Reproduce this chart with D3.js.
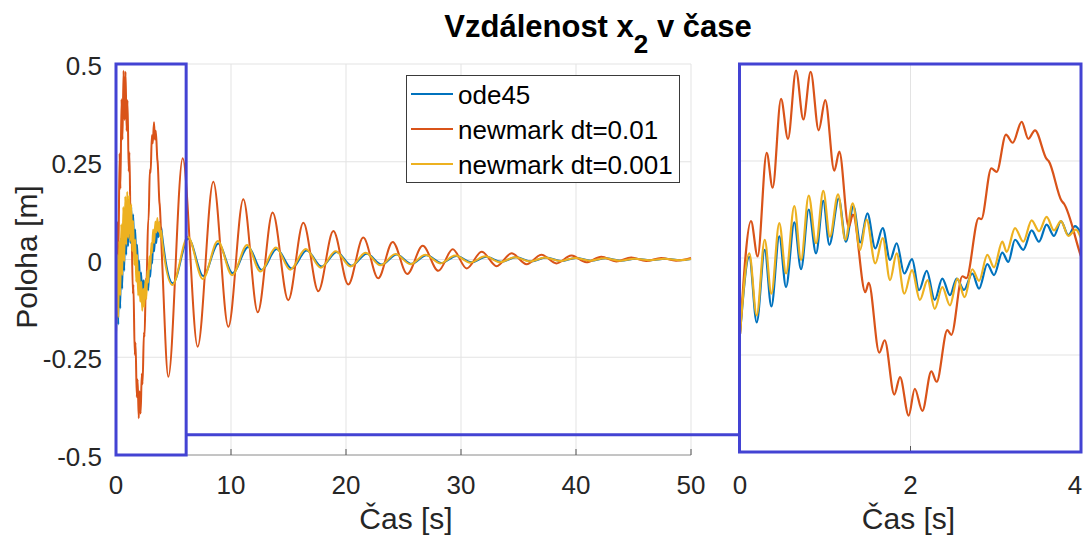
<!DOCTYPE html>
<html>
<head>
<meta charset="utf-8">
<script src="https://cdn.jsdelivr.net/npm/d3@7"></script>
<style>
  html, body { margin: 0; padding: 0; background: #fff; }
  svg { display: block; }
</style>
</head>
<body>
<div id="chart"></div>
<script>
(function () {
  "use strict";

  var FONT = "'Liberation Sans', Arial, Helvetica, sans-serif";

  // ── data (t [s], x2 [m]) ──
  var ode45Pts = [
    [0, -0.196], [0.109, 0.003], [0.196, -0.166], [0.29, 0.021], [0.368, -0.125],
    [0.461, 0.056], [0.54, -0.075], [0.637, 0.092], [0.716, -0.029], [0.806, 0.125],
    [0.892, 0.012], [0.977, 0.147], [1.048, 0.034], [1.158, 0.153], [1.243, 0.042],
    [1.33, 0.134], [1.411, 0.04], [1.494, 0.115], [1.587, 0.025], [1.674, 0.077],
    [1.76, -0.005], [1.838, 0.038], [1.927, -0.04], [2.018, -0.003], [2.1, -0.083],
    [2.19, -0.033], [2.284, -0.108], [2.373, -0.053], [2.463, -0.096], [2.542, -0.053],
    [2.628, -0.082], [2.725, -0.04], [2.804, -0.079], [2.901, -0.016], [2.98, -0.044],
    [3.077, 0.014], [3.147, -0.01], [3.226, 0.047], [3.323, 0.021], [3.421, 0.071],
    [3.507, 0.042], [3.597, 0.086], [3.683, 0.057], [3.765, 0.095], [3.851, 0.059],
    [3.93, 0.082], [4.0, 0.064],
    [4.95, -0.061], [6.29, 0.054], [7.59, -0.042], [8.9, 0.041], [10.14, -0.035],
    [11.5, 0.032], [12.67, -0.027], [13.97, 0.027], [15.28, -0.023], [16.58, 0.023],
    [17.88, -0.018], [19.19, 0.019], [20.49, -0.016], [21.8, 0.015], [23.1, -0.013],
    [24.4, 0.013], [25.7, -0.011], [27.0, 0.011], [28.3, -0.009], [29.6, 0.009],
    [30.9, -0.007], [32.2, 0.007], [33.5, -0.006], [34.8, 0.006], [36.1, -0.005],
    [37.4, 0.005], [38.7, -0.004], [40.0, 0.004], [41.3, -0.003], [42.6, 0.003],
    [43.9, -0.003], [45.2, 0.002], [46.5, -0.002], [47.8, 0.002], [49.1, -0.002],
    [50, 0.001]
  ];

  var newmark01Pts = [
    [0, -0.196], [0.129, 0.095], [0.207, 0.004], [0.313, 0.271], [0.383, 0.181],
    [0.481, 0.41], [0.563, 0.307], [0.657, 0.483], [0.743, 0.357], [0.829, 0.48],
    [0.923, 0.329], [1.0, 0.407], [1.106, 0.225], [1.165, 0.274], [1.275, 0.08],
    [1.325, 0.112], [1.47, -0.088], [1.51, -0.064], [1.634, -0.244], [1.697, -0.212],
    [1.81, -0.352], [1.877, -0.307], [1.979, -0.406], [2.05, -0.337], [2.139, -0.394],
    [2.244, -0.292], [2.307, -0.319], [2.432, -0.186], [2.479, -0.198], [2.608, -0.047],
    [2.655, -0.052], [2.8, 0.103], [2.83, 0.1], [2.948, 0.231], [3.011, 0.222],
    [3.12, 0.318], [3.199, 0.297], [3.304, 0.351], [3.382, 0.307], [3.46, 0.329],
    [3.597, 0.255], [3.62, 0.25], [3.773, 0.147], [3.8, 0.14], [4.0, 0.004],
    [4.55, -0.30], [5.8, 0.259], [7.1, -0.223], [8.46, 0.199], [9.77, -0.172],
    [11.07, 0.154], [12.33, -0.135], [13.62, 0.12], [14.98, -0.104], [16.29, 0.094],
    [17.59, -0.081], [18.9, 0.073], [20.2, -0.064], [21.5, 0.056], [22.8, -0.048],
    [24.06, 0.045], [25.33, -0.037], [26.67, 0.035], [28.03, -0.029], [29.28, 0.026],
    [30.5, -0.023], [31.8, 0.02], [33.1, -0.017], [34.4, 0.016], [35.7, -0.012],
    [37.0, 0.012], [38.3, -0.01], [39.6, 0.01], [40.9, -0.007], [42.2, 0.007],
    [43.5, -0.005], [44.8, 0.005], [46.1, -0.004], [47.4, 0.004], [48.7, -0.003],
    [50, 0.004]
  ];

  var newmark001Pts = [
    [0, -0.196], [0.109, 0.012], [0.196, -0.148], [0.29, 0.047], [0.368, -0.092],
    [0.461, 0.09], [0.54, -0.04], [0.637, 0.134], [0.716, -0.005], [0.806, 0.161],
    [0.892, 0.038], [0.977, 0.173], [1.055, 0.055], [1.15, 0.164], [1.235, 0.047],
    [1.322, 0.141], [1.408, 0.021], [1.485, 0.099], [1.587, -0.014], [1.674, 0.051],
    [1.76, -0.057], [1.838, 0.012], [1.927, -0.092], [2.018, -0.031], [2.11, -0.108],
    [2.2, -0.057], [2.284, -0.131], [2.373, -0.075], [2.463, -0.122], [2.55, -0.053],
    [2.635, -0.101], [2.725, -0.029], [2.804, -0.059], [2.901, 0.008], [2.98, -0.024],
    [3.077, 0.042], [3.128, 0.016], [3.226, 0.077], [3.323, 0.042], [3.421, 0.097],
    [3.507, 0.069], [3.597, 0.106], [3.683, 0.071], [3.765, 0.095], [3.851, 0.057],
    [3.94, 0.073], [4.0, 0.051],
    [4.9, -0.065], [6.25, 0.058], [7.55, -0.05], [8.85, 0.047], [10.1, -0.04],
    [11.4, 0.037], [12.55, -0.031], [13.9, 0.031], [15.15, -0.026], [16.5, 0.027],
    [17.8, -0.021], [19.1, 0.021], [20.4, -0.018], [21.7, 0.017], [23.0, -0.015],
    [24.3, 0.014], [25.6, -0.012], [26.9, 0.012], [28.2, -0.01], [29.5, 0.01],
    [30.8, -0.008], [32.1, 0.008], [33.4, -0.007], [34.7, 0.006], [36.0, -0.005],
    [37.3, 0.005], [38.6, -0.004], [39.9, 0.004], [41.2, -0.003], [42.5, 0.003],
    [43.8, -0.003], [45.1, 0.002], [46.4, -0.002], [47.7, 0.002], [49.0, -0.002],
    [50, 0.001]
  ];

  var seriesNames = ["ode45", "newmark dt=0.01", "newmark dt=0.001"];
  var seriesColors = ["#0072BD", "#D95319", "#EDB120"];

  var xTicksMain = [0, 10, 20, 30, 40, 50];
  var xTicksInset = [0, 2, 4];
  var yTicks = [-0.5, -0.25, 0, 0.25, 0.5];
  var yTickLabels = ["-0.5", "-0.25", "0", "0.25", "0.5"];
  var zoomBoxT = [0, 6.1];

  // ── layout ──
  var W = 1087, H = 538;
  var BOX = "#4343d3";

  var svg = d3.select("#chart").append("svg")
    .attr("width", W).attr("height", H)
    .style("background", "#fff");

  var xMain = d3.scaleLinear().domain([0, 50]).range([116, 691]);
  var yMain = d3.scaleLinear().domain([-0.5, 0.5]).range([455, 64]);
  var xIn = d3.scaleLinear().domain([0, 4]).range([740, 1081]);
  var yIn = d3.scaleLinear().domain([-0.5, 0.5]).range([452, 64]);

  var data = [ode45Pts, newmark01Pts, newmark001Pts];

  // Title
  var title = svg.append("text")
    .attr("x", 598).attr("y", 37)
    .attr("text-anchor", "middle")
    .attr("font-family", FONT).attr("font-size", "31px").attr("font-weight", "bold")
    .attr("fill", "#000");
  title.append("tspan").text("Vzdálenost x");
  title.append("tspan").attr("dy", 16).attr("font-size", "26px").text("2");
  title.append("tspan").attr("dy", -16).text(" v čase");

  // ── main axes ──
  var gMain = svg.append("g");

  // grid
  xTicksMain.forEach(function (t) {
    if (t === 0) return;
    gMain.append("line")
      .attr("x1", xMain(t)).attr("x2", xMain(t))
      .attr("y1", yMain(-0.5)).attr("y2", yMain(0.5))
      .attr("stroke", "#e3e3e3").attr("stroke-width", 1);
  });
  yTicks.forEach(function (v) {
    if (v === -0.5) return;
    gMain.append("line")
      .attr("x1", xMain(0)).attr("x2", xMain(50))
      .attr("y1", yMain(v)).attr("y2", yMain(v))
      .attr("stroke", "#e3e3e3").attr("stroke-width", 1);
  });

  // bottom axis + ticks
  gMain.append("line")
    .attr("x1", xMain(0)).attr("x2", xMain(50))
    .attr("y1", yMain(-0.5)).attr("y2", yMain(-0.5))
    .attr("stroke", "#8a8a8a").attr("stroke-width", 1);
  xTicksMain.forEach(function (t) {
    gMain.append("line")
      .attr("x1", xMain(t)).attr("x2", xMain(t))
      .attr("y1", yMain(-0.5)).attr("y2", yMain(-0.5) - 6)
      .attr("stroke", "#555").attr("stroke-width", 1);
    gMain.append("text")
      .attr("x", xMain(t)).attr("y", 494)
      .attr("text-anchor", "middle")
      .attr("font-family", FONT).attr("font-size", "26px").attr("fill", "#262626")
      .text(t);
  });
  yTicks.forEach(function (v, i) {
    gMain.append("text")
      .attr("x", 102).attr("y", yMain(v) + 11)
      .attr("text-anchor", "end")
      .attr("font-family", FONT).attr("font-size", "26px").attr("fill", "#262626")
      .text(yTickLabels[i]);
  });

  svg.append("text")
    .attr("x", 406).attr("y", 529)
    .attr("text-anchor", "middle")
    .attr("font-family", FONT).attr("font-size", "30px").attr("fill", "#262626")
    .text("Čas [s]");
  svg.append("text")
    .attr("transform", "translate(37,257) rotate(-90)")
    .attr("text-anchor", "middle")
    .attr("font-family", FONT).attr("font-size", "30px").attr("fill", "#262626")
    .text("Poloha [m]");

  // lines
  var lineMain = d3.line()
    .x(function (d) { return xMain(d[0]); })
    .y(function (d) { return yMain(d[1]); })
    .curve(d3.curveMonotoneX);
  data.forEach(function (pts, i) {
    gMain.append("path")
      .attr("d", lineMain(pts))
      .attr("fill", "none")
      .attr("stroke", seriesColors[i])
      .attr("stroke-width", 2)
      .attr("stroke-linejoin", "round");
  });

  // zoom box + connector
  svg.append("rect")
    .attr("x", xMain(zoomBoxT[0])).attr("y", yMain(0.5))
    .attr("width", xMain(zoomBoxT[1]) - xMain(zoomBoxT[0]))
    .attr("height", yMain(-0.5) - yMain(0.5))
    .attr("fill", "none").attr("stroke", BOX).attr("stroke-width", 3);
  svg.append("line")
    .attr("x1", xMain(zoomBoxT[1])).attr("x2", xIn(0))
    .attr("y1", yMain(-0.448)).attr("y2", yMain(-0.448))
    .attr("stroke", BOX).attr("stroke-width", 3);

  // legend
  var leg = svg.append("g");
  leg.append("rect")
    .attr("x", 406.5).attr("y", 75.5).attr("width", 273).attr("height", 107)
    .attr("fill", "#fff").attr("stroke", "#3a3a3a").attr("stroke-width", 1);
  seriesNames.forEach(function (name, i) {
    var ly = 94 + i * 35;
    leg.append("line")
      .attr("x1", 411).attr("x2", 453).attr("y1", ly).attr("y2", ly)
      .attr("stroke", seriesColors[i]).attr("stroke-width", 2);
    leg.append("text")
      .attr("x", 458).attr("y", ly + 10)
      .attr("font-family", FONT).attr("font-size", "26px").attr("fill", "#000")
      .text(name);
  });

  // ── inset axes ──
  var gIn = svg.append("g");
  svg.append("defs").append("clipPath").attr("id", "clip-inset")
    .append("rect")
    .attr("x", xIn(0)).attr("y", yIn(0.5))
    .attr("width", xIn(4) - xIn(0)).attr("height", yIn(-0.5) - yIn(0.5));

  gIn.append("line")
    .attr("x1", xIn(2)).attr("x2", xIn(2))
    .attr("y1", yIn(-0.5)).attr("y2", yIn(0.5))
    .attr("stroke", "#e3e3e3").attr("stroke-width", 1);
  [-0.25, 0, 0.25].forEach(function (v) {
    gIn.append("line")
      .attr("x1", xIn(0)).attr("x2", xIn(4))
      .attr("y1", yIn(v)).attr("y2", yIn(v))
      .attr("stroke", "#e3e3e3").attr("stroke-width", 1);
  });
  gIn.append("line")
    .attr("x1", xIn(2)).attr("x2", xIn(2))
    .attr("y1", yIn(-0.5)).attr("y2", yIn(-0.5) - 6)
    .attr("stroke", "#555").attr("stroke-width", 1);
  xTicksInset.forEach(function (t) {
    gIn.append("text")
      .attr("x", Math.min(xIn(t), 1075)).attr("y", 494)
      .attr("text-anchor", "middle")
      .attr("font-family", FONT).attr("font-size", "26px").attr("fill", "#262626")
      .text(t);
  });
  svg.append("text")
    .attr("x", xIn(2) - 2).attr("y", 529)
    .attr("text-anchor", "middle")
    .attr("font-family", FONT).attr("font-size", "30px").attr("fill", "#262626")
    .text("Čas [s]");

  var lineIn = d3.line()
    .x(function (d) { return xIn(d[0]); })
    .y(function (d) { return yIn(d[1]); })
    .curve(d3.curveMonotoneX);
  var gInLines = gIn.append("g").attr("clip-path", "url(#clip-inset)");
  data.forEach(function (pts, i) {
    gInLines.append("path")
      .attr("d", lineIn(pts.filter(function (d) { return d[0] <= 4.6; })))
      .attr("fill", "none")
      .attr("stroke", seriesColors[i])
      .attr("stroke-width", 2.2)
      .attr("stroke-linejoin", "round");
  });

  svg.append("rect")
    .attr("x", xIn(0) - 0.5).attr("y", yIn(0.5))
    .attr("width", xIn(4) - xIn(0) + 0.5)
    .attr("height", yIn(-0.5) - yIn(0.5))
    .attr("fill", "none").attr("stroke", BOX).attr("stroke-width", 3);
})();
</script>
</body>
</html>
